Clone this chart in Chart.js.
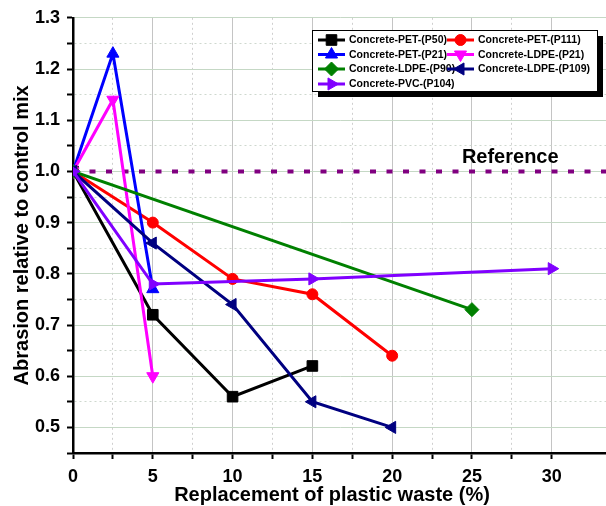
<!DOCTYPE html>
<html>
<head>
<meta charset="utf-8">
<script src="https://cdn.jsdelivr.net/npm/chart.js@4.4.0/dist/chart.umd.min.js"></script>
<style>
html,body{margin:0;padding:0;background:#fff}
#wrap{width:606px;height:506px}
</style>
</head>
<body>
<div id="wrap"><canvas id="c" width="606" height="506"></canvas></div>
<script>
// abrasion vs plastic replacement

const xP50 = [0, 5, 10, 15]
const yP50 = [1.0, 0.72, 0.56, 0.62]
const xP111 = [0, 5, 10, 15, 20]
const yP111 = [1.0, 0.90, 0.79, 0.76, 0.64]
const xPET21 = [0, 2.5, 5]
const yPET21 = [1.0, 1.23, 0.77]
const xLDPE21 = [0, 2.5, 5]
const yLDPE21 = [1.0, 1.14, 0.60]
const xP90 = [0, 25]
const yP90 = [1.0, 0.73]
const xP109 = [0, 5, 10, 15, 20]
const yP109 = [1.0, 0.86, 0.74, 0.55, 0.50]
const xP104 = [0, 5, 15, 30]
const yP104 = [1.0, 0.78, 0.79, 0.81]

const refX = [0, 33.4]
const refY = [1.0, 1.0]
const refLabel = 'Reference'
const refLabelPos = [27.4, 1.027]
const xTitle = 'Replacement of plastic waste (%)'

const labels = ['Concrete-PET-(P50)', 'Concrete-PET-(P111)', 'Concrete-PET-(P21)', 'Concrete-LDPE-(P21)',
    'Concrete-LDPE-(P90)', 'Concrete-LDPE-(P109)', 'Concrete-PVC-(P104)']
const colors = ['#000000', '#ff0000', '#0000ff', '#ff00ff', '#008000', '#000080', '#8000ff']
const shapes = ['rect', 'circle', 'triangle', 'triangle', 'rectRot', 'triangle', 'triangle']
const rots = [0, 0, 0, 180, 0, -90, 90]
const radii = [7.5, 5.5, 7, 7, 7, 7, 7]

const xs = [xP50, xP111, xPET21, xLDPE21, xP90, xP109, xP104]
const ys = [yP50, yP111, yPET21, yLDPE21, yP90, yP109, yP104]

const pts = (a, b) => a.map((v, i) => ({x: v, y: b[i]}))

const datasets = labels.map((l, i) => ({
    label: l,
    data: pts(xs[i], ys[i]),
    showLine: true,
    borderColor: colors[i],
    backgroundColor: colors[i],
    borderWidth: 3,
    pointStyle: shapes[i],
    rotation: rots[i],
    pointRadius: radii[i],
    pointBorderWidth: 1,
    order: 10 - i
}))
datasets.push({
    label: '_ref',
    data: pts(refX, refY),
    showLine: true,
    borderColor: '#800080',
    borderWidth: 4,
    borderDash: [6, 10.5],
    pointRadius: 0,
    order: 100
})

const FONT = 'Liberation Sans, Arial, sans-serif'
const near = (v, s) => Math.abs(v / s - Math.round(v / s)) < 1e-6

const extras = {
    id: 'extras',
    afterDatasetsDraw(chart) {
        const {ctx, scales: {x, y}} = chart
        ctx.save()
        ctx.fillStyle = '#000'
        ctx.font = 'bold 20px ' + FONT
        ctx.textAlign = 'center'
        ctx.textBaseline = 'middle'
        ctx.fillText(refLabel, x.getPixelForValue(refLabelPos[0]), y.getPixelForValue(refLabelPos[1]))
        // x title sits a bit left of the plot centre in the original
        ctx.fillText(xTitle, 332, 495)
        ctx.restore()
    },
    afterDraw(chart) {
        // legend box in top right
        const ctx = chart.ctx
        const bx = 312, by = 30, bw = 285, bh = 61
        ctx.save()
        ctx.fillStyle = '#000'
        ctx.fillRect(bx + 6, by + 6, bw, bh)
        ctx.fillStyle = '#fff'
        ctx.fillRect(bx, by, bw, bh)
        ctx.strokeStyle = '#000'
        ctx.lineWidth = 1
        ctx.strokeRect(bx + 0.5, by + 0.5, bw, bh)
        ctx.font = 'bold 10.5px ' + FONT
        ctx.textBaseline = 'middle'
        ctx.textAlign = 'left'
        const colX = [318, 447]
        const rowY = [40, 54.5, 69, 84]
        labels.forEach((l, i) => {
            const cx = colX[i % 2], cy = rowY[Math.floor(i / 2)]
            ctx.strokeStyle = colors[i]
            ctx.lineWidth = 3
            ctx.beginPath()
            ctx.moveTo(cx, cy)
            ctx.lineTo(cx + 27, cy)
            ctx.stroke()
            ctx.fillStyle = colors[i]
            ctx.lineWidth = 1
            Chart.helpers.drawPoint(ctx, {pointStyle: shapes[i], rotation: rots[i], radius: radii[i], borderWidth: 1}, cx + 13.5, cy)
            ctx.fillStyle = '#000'
            ctx.fillText(l, cx + 31, cy + 0.5)
        })
        ctx.restore()
    }
}

new Chart(document.getElementById('c'), {
    type: 'scatter',
    data: {datasets},
    options: {
        responsive: false,
        animation: false,
        layout: {autoPadding: false, padding: {top: 16, right: 0, bottom: 0, left: 0}},
        plugins: {legend: {display: false}, tooltip: {enabled: false}},
        scales: {
            x: {
                type: 'linear',
                min: 0,
                max: 33.4,
                afterBuildTicks: s => { s.ticks = s.ticks.filter(t => near(t.value, 2.5)) },
                afterFit: s => { s.height = 53; s.paddingRight = 0; s.paddingLeft = 0 },
                ticks: {
                    stepSize: 2.5,
                    autoSkip: false,
                    maxRotation: 0,
                    padding: 7,
                    color: '#000',
                    font: {family: FONT, size: 18, weight: 'bold'},
                    callback: v => near(v, 5) ? String(v) : ''
                },
                grid: {
                    color: c => c.tick && near(c.tick.value, 5) ? '#c4c4c4' : '#cfcfcf',
                    lineWidth: 1,
                    tickLength: 6,
                    tickWidth: 2,
                    tickColor: '#000'
                },
                border: {
                    color: '#000',
                    width: 2.5,
                    dash: c => c.tick && !near(c.tick.value, 5) ? [2, 3] : []
                },
                title: {display: false}
            },
            y: {
                type: 'linear',
                min: 0.45,
                max: 1.3,
                afterBuildTicks: s => { s.ticks = s.ticks.filter(t => near(t.value, 0.05)) },
                afterFit: s => { s.width = 73 },
                ticks: {
                    stepSize: 0.05,
                    autoSkip: false,
                    padding: 7,
                    color: '#000',
                    font: {family: FONT, size: 18, weight: 'bold'},
                    callback: v => near(v, 0.1) ? v.toFixed(1) : ''
                },
                grid: {
                    color: c => c.tick && near(c.tick.value, 0.1) ? '#c5d8c5' : '#cfd8cf',
                    lineWidth: 1,
                    tickLength: 6,
                    tickWidth: 2,
                    tickColor: '#000'
                },
                border: {
                    color: '#000',
                    width: 2.5,
                    dash: c => c.tick && !near(c.tick.value, 0.1) ? [2, 3] : []
                },
                title: {
                    display: true,
                    text: 'Abrasion relative to control mix',
                    color: '#000',
                    font: {family: FONT, size: 20, weight: 'bold'},
                    padding: {top: 10, bottom: 0}
                }
            }
        }
    },
    plugins: [extras]
})
</script>
</body>
</html>
